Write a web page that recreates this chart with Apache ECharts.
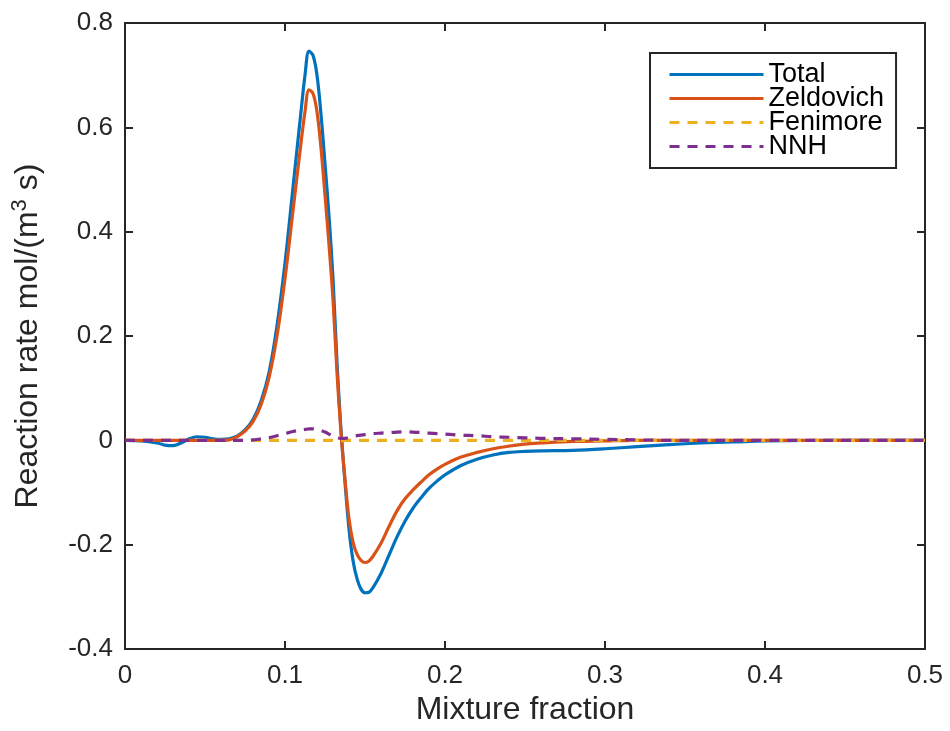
<!DOCTYPE html>
<html>
<head>
<meta charset="utf-8">
<script src="https://cdn.jsdelivr.net/npm/echarts@6/dist/echarts.min.js"></script>
<style>
html,body{margin:0;padding:0;background:#fff;}
#chart{width:950px;height:731px;}
</style>
</head>
<body>
<div id="chart"></div>
<script>
// Mixture fraction grid
var mixtureFraction = [0,0.01,0.02,0.025,0.03,0.035,0.04,0.045,0.05,0.055,
  0.06,0.065,0.07,0.075,0.08,0.085,0.09,0.095,0.1,0.105,
  0.11,0.1125,0.115,0.1175,0.12,0.1225,0.125,0.1275,0.13,0.1325,
  0.135,0.1375,0.14,0.1425,0.145,0.1475,0.15,0.1525,0.155,0.16,
  0.165,0.17,0.175,0.18,0.185,0.19,0.195,0.2,0.21,0.22,
  0.23,0.24,0.25,0.26,0.28,0.3,0.32,0.34,0.36,0.38,
  0.4,0.45,0.5];

var totalRate = [0,-0.001,-0.005,-0.009,-0.01,-0.005,0.003,0.007,0.006,0.003,
  0.002,0.003,0.008,0.02,0.04,0.075,0.13,0.22,0.34,0.485,
  0.63,0.70,0.746,0.738,0.70,0.625,0.53,0.43,0.31,0.15,
  0.02,-0.08,-0.17,-0.23,-0.265,-0.285,-0.292,-0.291,-0.282,-0.255,
  -0.22,-0.185,-0.155,-0.13,-0.11,-0.092,-0.078,-0.066,-0.048,-0.036,
  -0.028,-0.023,-0.021,-0.02,-0.019,-0.016,-0.012,-0.008,-0.005,-0.003,
  -0.001,0,0];

var zeldovichRate = [0,0,0,0,0,0,0,0,0,0,
  0,0.001,0.007,0.018,0.036,0.068,0.12,0.2,0.31,0.44,
  0.57,0.63,0.672,0.665,0.63,0.56,0.47,0.375,0.27,0.13,
  0.015,-0.075,-0.15,-0.195,-0.218,-0.23,-0.234,-0.231,-0.222,-0.197,
  -0.165,-0.135,-0.112,-0.095,-0.08,-0.066,-0.055,-0.046,-0.032,-0.023,
  -0.016,-0.011,-0.007,-0.005,-0.002,-0.001,0,0,0,0,
  0,0,0];

var fenimoreRate = [0,0,0,0,0,0,0,0,0,0,
  0,0,0,0,0,0,0,0,0,0,
  0,0,0,0,0,0,0,0,0,0,
  0,0,0,0,0,0,0,0,0,0,
  0,0,0,0,0,0,0,0,0,0,
  0,0,0,0,0,0,0,0,0,0,
  0,0,0];

var nnhRate = [0,0,0,0,0,0,0,0,0,0,
  0,0,0,0,0.001,0.003,0.005,0.009,0.013,0.017,
  0.02,0.021,0.022,0.022,0.021,0.019,0.016,0.012,0.008,0.005,
  0.004,0.004,0.006,0.008,0.009,0.01,0.011,0.012,0.013,0.014,
  0.015,0.016,0.0165,0.016,0.015,0.014,0.013,0.012,0.01,0.009,
  0.007,0.006,0.005,0.004,0.003,0.002,0.001,0,0,0,
  0,0,0];

var seriesNames = ['Total','Zeldovich','Fenimore','NNH'];
var xTicks = {min:0, max:0.5, interval:0.1};
var yTicks = {min:-0.4, max:0.8, interval:0.2};

function pairs(ys){ return mixtureFraction.map(function(x,i){ return [x, ys[i]]; }); }

var FONT = 'Liberation Sans, Arial, Helvetica, sans-serif';
var AX = '#262626';

var chart = echarts.init(document.getElementById('chart'), null, {renderer:'canvas', width:950, height:731});

function mkLine(name, ys, color, dashed){
  return {
    name:name, type:'line', data:pairs(ys),
    xAxisIndex:0, yAxisIndex:0,
    symbol:'none', smooth:0.35,
    lineStyle:{color:color, width:3.2, type: dashed ? [10,8] : 'solid'},
    itemStyle:{color:color},
    emphasis:{disabled:true},
    animation:false
  };
}

function axisCommon(){
  return {
    axisLine:{show:true, onZero:false, lineStyle:{color:AX, width:2}},
    axisTick:{show:true, inside:true, length:8, lineStyle:{color:AX, width:2}},
    splitLine:{show:false}
  };
}

chart.setOption({
  animation:false,
  backgroundColor:'#fff',
  grid:{left:125, right:25, top:23, bottom:78, containLabel:false},
  legend:{
    orient:'vertical',
    left:650, top:53,
    data:seriesNames,
    backgroundColor:'#fff',
    borderColor:AX, borderWidth:2,
    padding:[8,12,8,18],
    itemWidth:94, itemHeight:20, itemGap:-3,
    itemStyle:{opacity:0},
    lineStyle:{width:3},
    textStyle:{fontFamily:FONT, fontSize:27, color:'#000'},
    selectedMode:false
  },
  xAxis:[
    Object.assign({
      type:'value', position:'bottom',
      min:xTicks.min, max:xTicks.max, interval:xTicks.interval,
      name:'Mixture fraction', nameLocation:'middle', nameGap:44,
      nameTextStyle:{fontFamily:FONT, fontSize:32, color:AX},
      axisLabel:{fontFamily:FONT, fontSize:26, color:AX, margin:14}
    }, axisCommon()),
    Object.assign({
      type:'value', position:'top',
      min:xTicks.min, max:xTicks.max, interval:xTicks.interval,
      axisLabel:{show:false}
    }, axisCommon())
  ],
  yAxis:[
    Object.assign({
      type:'value', position:'left',
      min:yTicks.min, max:yTicks.max, interval:yTicks.interval,
      name:'{a|Reaction rate mol/(m}{s|3}{a| s)}', nameLocation:'middle', nameGap:78,
      nameTextStyle:{
        fontFamily:FONT, fontSize:32, color:AX,
        rich:{
          a:{fontFamily:FONT, fontSize:32, color:AX},
          s:{fontFamily:FONT, fontSize:22, color:AX, verticalAlign:'top', padding:[0,0,16,0]}
        }
      },
      axisLabel:{fontFamily:FONT, fontSize:26, color:AX, margin:12,
        formatter:function(v){ return String(Math.round(v*10)/10); }}
    }, axisCommon()),
    Object.assign({
      type:'value', position:'right',
      min:yTicks.min, max:yTicks.max, interval:yTicks.interval,
      axisLabel:{show:false}
    }, axisCommon())
  ],
  series:[
    mkLine(seriesNames[0], totalRate, '#0072BD', false),
    mkLine(seriesNames[1], zeldovichRate, '#D95319', false),
    mkLine(seriesNames[2], fenimoreRate, '#EDB120', true),
    mkLine(seriesNames[3], nnhRate, '#7E2F8E', true)
  ]
});
</script>
</body>
</html>
